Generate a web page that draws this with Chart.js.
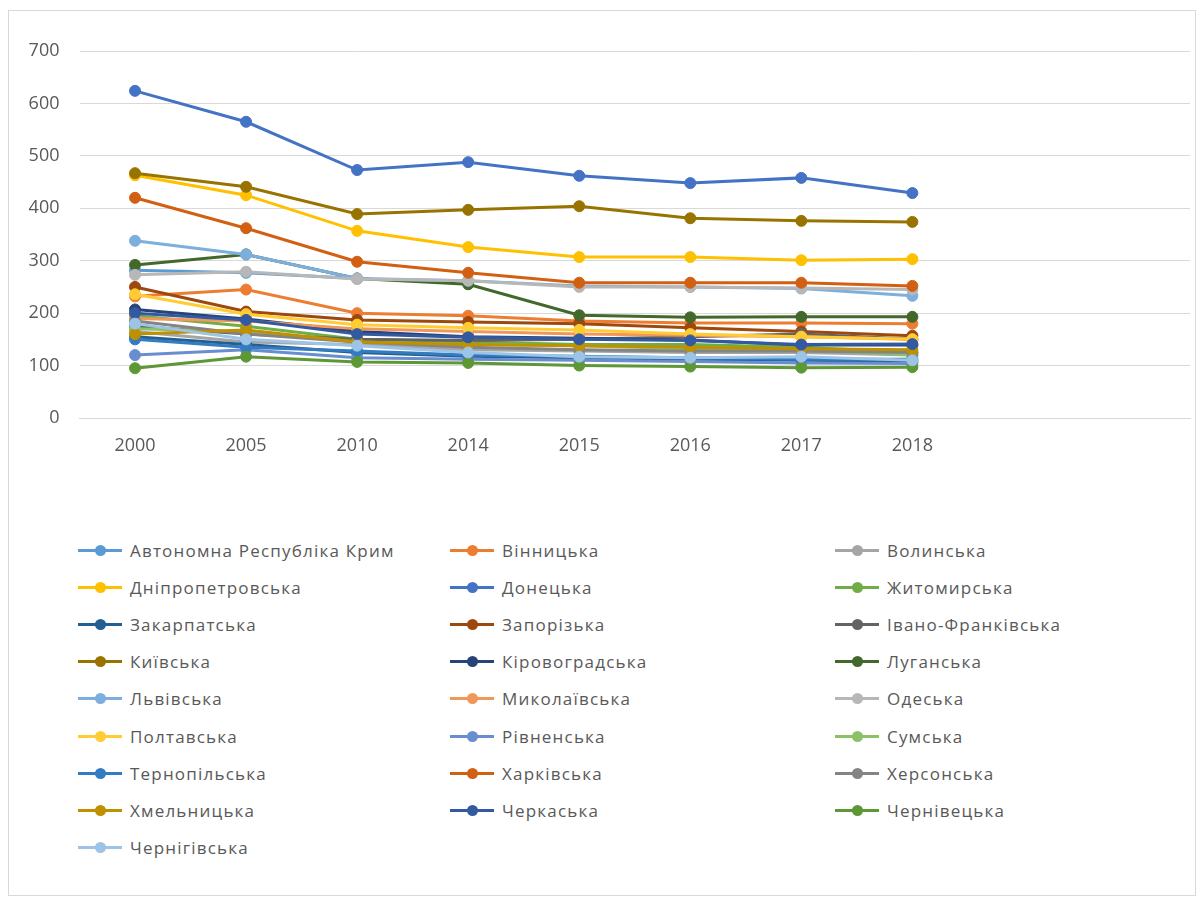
<!DOCTYPE html>
<html>
<head>
<meta charset="utf-8">
<script src="https://cdn.jsdelivr.net/npm/chart.js@4.4.1/dist/chart.umd.min.js"></script>
<style>
  html, body { margin: 0; padding: 0; background: #fff; }
  body { width: 1203px; height: 897px; position: relative; overflow: hidden; font-family: "Open Sans", sans-serif; }
  .frame { position: absolute; left: 8px; top: 10px; width: 1186px; height: 884px; border: 1px solid #d9d9d9; }
  .wrap { position: absolute; left: 0; top: 0; width: 1203px; height: 480px; }
  #legend { position: absolute; left: 0; top: 0; width: 1203px; }
  .item { position: absolute; height: 24px; display: flex; align-items: center; color: #595959; font-size: 17px; letter-spacing: 1.2px; white-space: nowrap; }
  .mark { position: relative; width: 44px; height: 3px; margin-right: 8px; }
  .mark i { position: absolute; left: 17px; top: -4px; width: 11px; height: 11px; border-radius: 50%; }
</style>
</head>
<body>
<div class="frame"></div>
<div class="wrap"><canvas id="chart"></canvas></div>
<div id="legend"></div>
<script>
// роки (дві порожні категорії праворуч, як у Excel)
const years = ["2000", "2005", "2010", "2014", "2015", "2016", "2017", "2018"];
const labels = [...years, "", ""];

const regions = [
  "Автономна Республіка Крим", "Вінницька", "Волинська",
  "Дніпропетровська", "Донецька", "Житомирська",
  "Закарпатська", "Запорізька", "Івано-Франківська",
  "Київська", "Кіровоградська", "Луганська",
  "Львівська", "Миколаївська", "Одеська",
  "Полтавська", "Рівненська", "Сумська",
  "Тернопільська", "Харківська", "Херсонська",
  "Хмельницька", "Черкаська", "Чернівецька",
  "Чернігівська"
];

const krym       = [282, 277, 266, null, null, null, null, null];
const vinnytska  = [232, 245, 200, 195, 185, 181, 181, 180];
const volynska   = [165, 145, 140, 130, 128, 125, 125, 120];
const dnipro     = [463, 425, 357, 326, 307, 307, 301, 303];
const donetska   = [624, 565, 473, 488, 462, 448, 458, 429];
const zhytomyr   = [195, 175, 150, 145, 140, 140, 135, 125];
const zakarpat   = [155, 140, 125, 118, 115, 112, 110, 108];
const zaporizh   = [250, 203, 187, 183, 180, 172, 165, 157];
const ivanofr    = [175, 160, 150, 148, 150, 155, 160, 150];
const kyivska    = [467, 441, 389, 397, 404, 381, 376, 374];
const kirovohr   = [207, 189, 165, 155, 152, 149, 139, 139];
const luhansk    = [292, 312, 266, 255, 196, 192, 193, 193];
const lviv       = [338, 312, 266, 262, 252, 250, 247, 233];
const mykolaiv   = [190, 185, 170, 165, 160, 158, 155, 150];
const odesa      = [273, 279, 265, 262, 250, 250, 248, 245];
const poltava    = [236, 198, 178, 172, 168, 160, 155, 150];
const rivne      = [120, 130, 115, 112, 110, 108, 105, 104];
const sumy       = [170, 165, 145, 140, 138, 132, 130, 120];
const ternopil   = [150, 135, 128, 120, 118, 115, 112, 112];
const kharkiv    = [420, 362, 298, 277, 258, 258, 258, 252];
const kherson    = [185, 160, 145, 135, 130, 128, 128, 125];
const khmelnyt   = [160, 168, 145, 140, 138, 135, 132, 130];
const cherkasy   = [200, 187, 160, 154, 150, 148, 140, 141];
const chernivtsi = [95, 117, 107, 105, 100, 98, 96, 97];
const chernihiv  = [180, 150, 138, 125, 117, 115, 117, 110];

const series = [
  krym, vinnytska, volynska, dnipro, donetska, zhytomyr, zakarpat, zaporizh,
  ivanofr, kyivska, kirovohr, luhansk, lviv, mykolaiv, odesa, poltava, rivne,
  sumy, ternopil, kharkiv, kherson, khmelnyt, cherkasy, chernivtsi, chernihiv
];

const yTicks = [0, 100, 200, 300, 400, 500, 600, 700];

// палітра Office
const palette = [
  "#5B9BD5", "#ED7D31", "#A5A5A5", "#FFC000", "#4472C4", "#70AD47",
  "#255E91", "#9E480E", "#636363", "#997300", "#264478", "#43682B",
  "#7CAFDD", "#F1975A", "#B7B7B7", "#FFCD33", "#698ED0", "#8CC168",
  "#327DC2", "#D26012", "#848484", "#BF9000", "#335AA1", "#5E9735",
  "#9DC3E6"
];

const txt = "#595959";
const grid = "#d9d9d9";

const datasets = regions.map((name, i) => ({
  label: name,
  data: series[i],
  borderColor: palette[i],
  backgroundColor: palette[i],
  borderWidth: 3,
  pointRadius: 5.5,
  pointBorderWidth: 1,
  pointHoverRadius: 6,
  tension: 0,
  spanGaps: false,
  order: regions.length - i
}));

new Chart(document.getElementById("chart"), {
  type: "line",
  data: { labels, datasets },
  options: {
    responsive: true,
    maintainAspectRatio: false,
    animation: false,
    layout: { padding: { top: 51, right: 13, left: 0, bottom: 0 } },
    plugins: { legend: { display: false }, tooltip: { enabled: false } },
    scales: {
      x: {
        offset: true,
        grid: { display: false, drawTicks: false },
        border: { color: grid, width: 1 },
        ticks: { color: txt, font: { family: "Open Sans", size: 18 }, padding: 17, autoSkip: false, maxRotation: 0 },
        afterFit: s => { s.height = 62; }
      },
      y: {
        min: 0,
        max: 700,
        afterBuildTicks: s => { s.ticks = yTicks.map(v => ({ value: v })); },
        grid: { color: grid, drawTicks: false },
        border: { display: false },
        ticks: { color: txt, font: { family: "Open Sans", size: 18 }, padding: 20 },
        afterFit: s => { s.width = 79.5; }
      }
    }
  }
});

// легенда: три колонки
const legend = document.getElementById("legend");
const colX = [78, 450, 835];
regions.forEach((name, i) => {
  const row = Math.floor(i / 3), col = i % 3;
  const el = document.createElement("div");
  el.className = "item";
  el.style.left = colX[col] + "px";
  el.style.top = (538 + row * 37.2) + "px";
  el.innerHTML = `<span class="mark" style="background:${palette[i]}"><i style="background:${palette[i]}"></i></span>${name}`;
  legend.appendChild(el);
});
</script>
</body>
</html>
